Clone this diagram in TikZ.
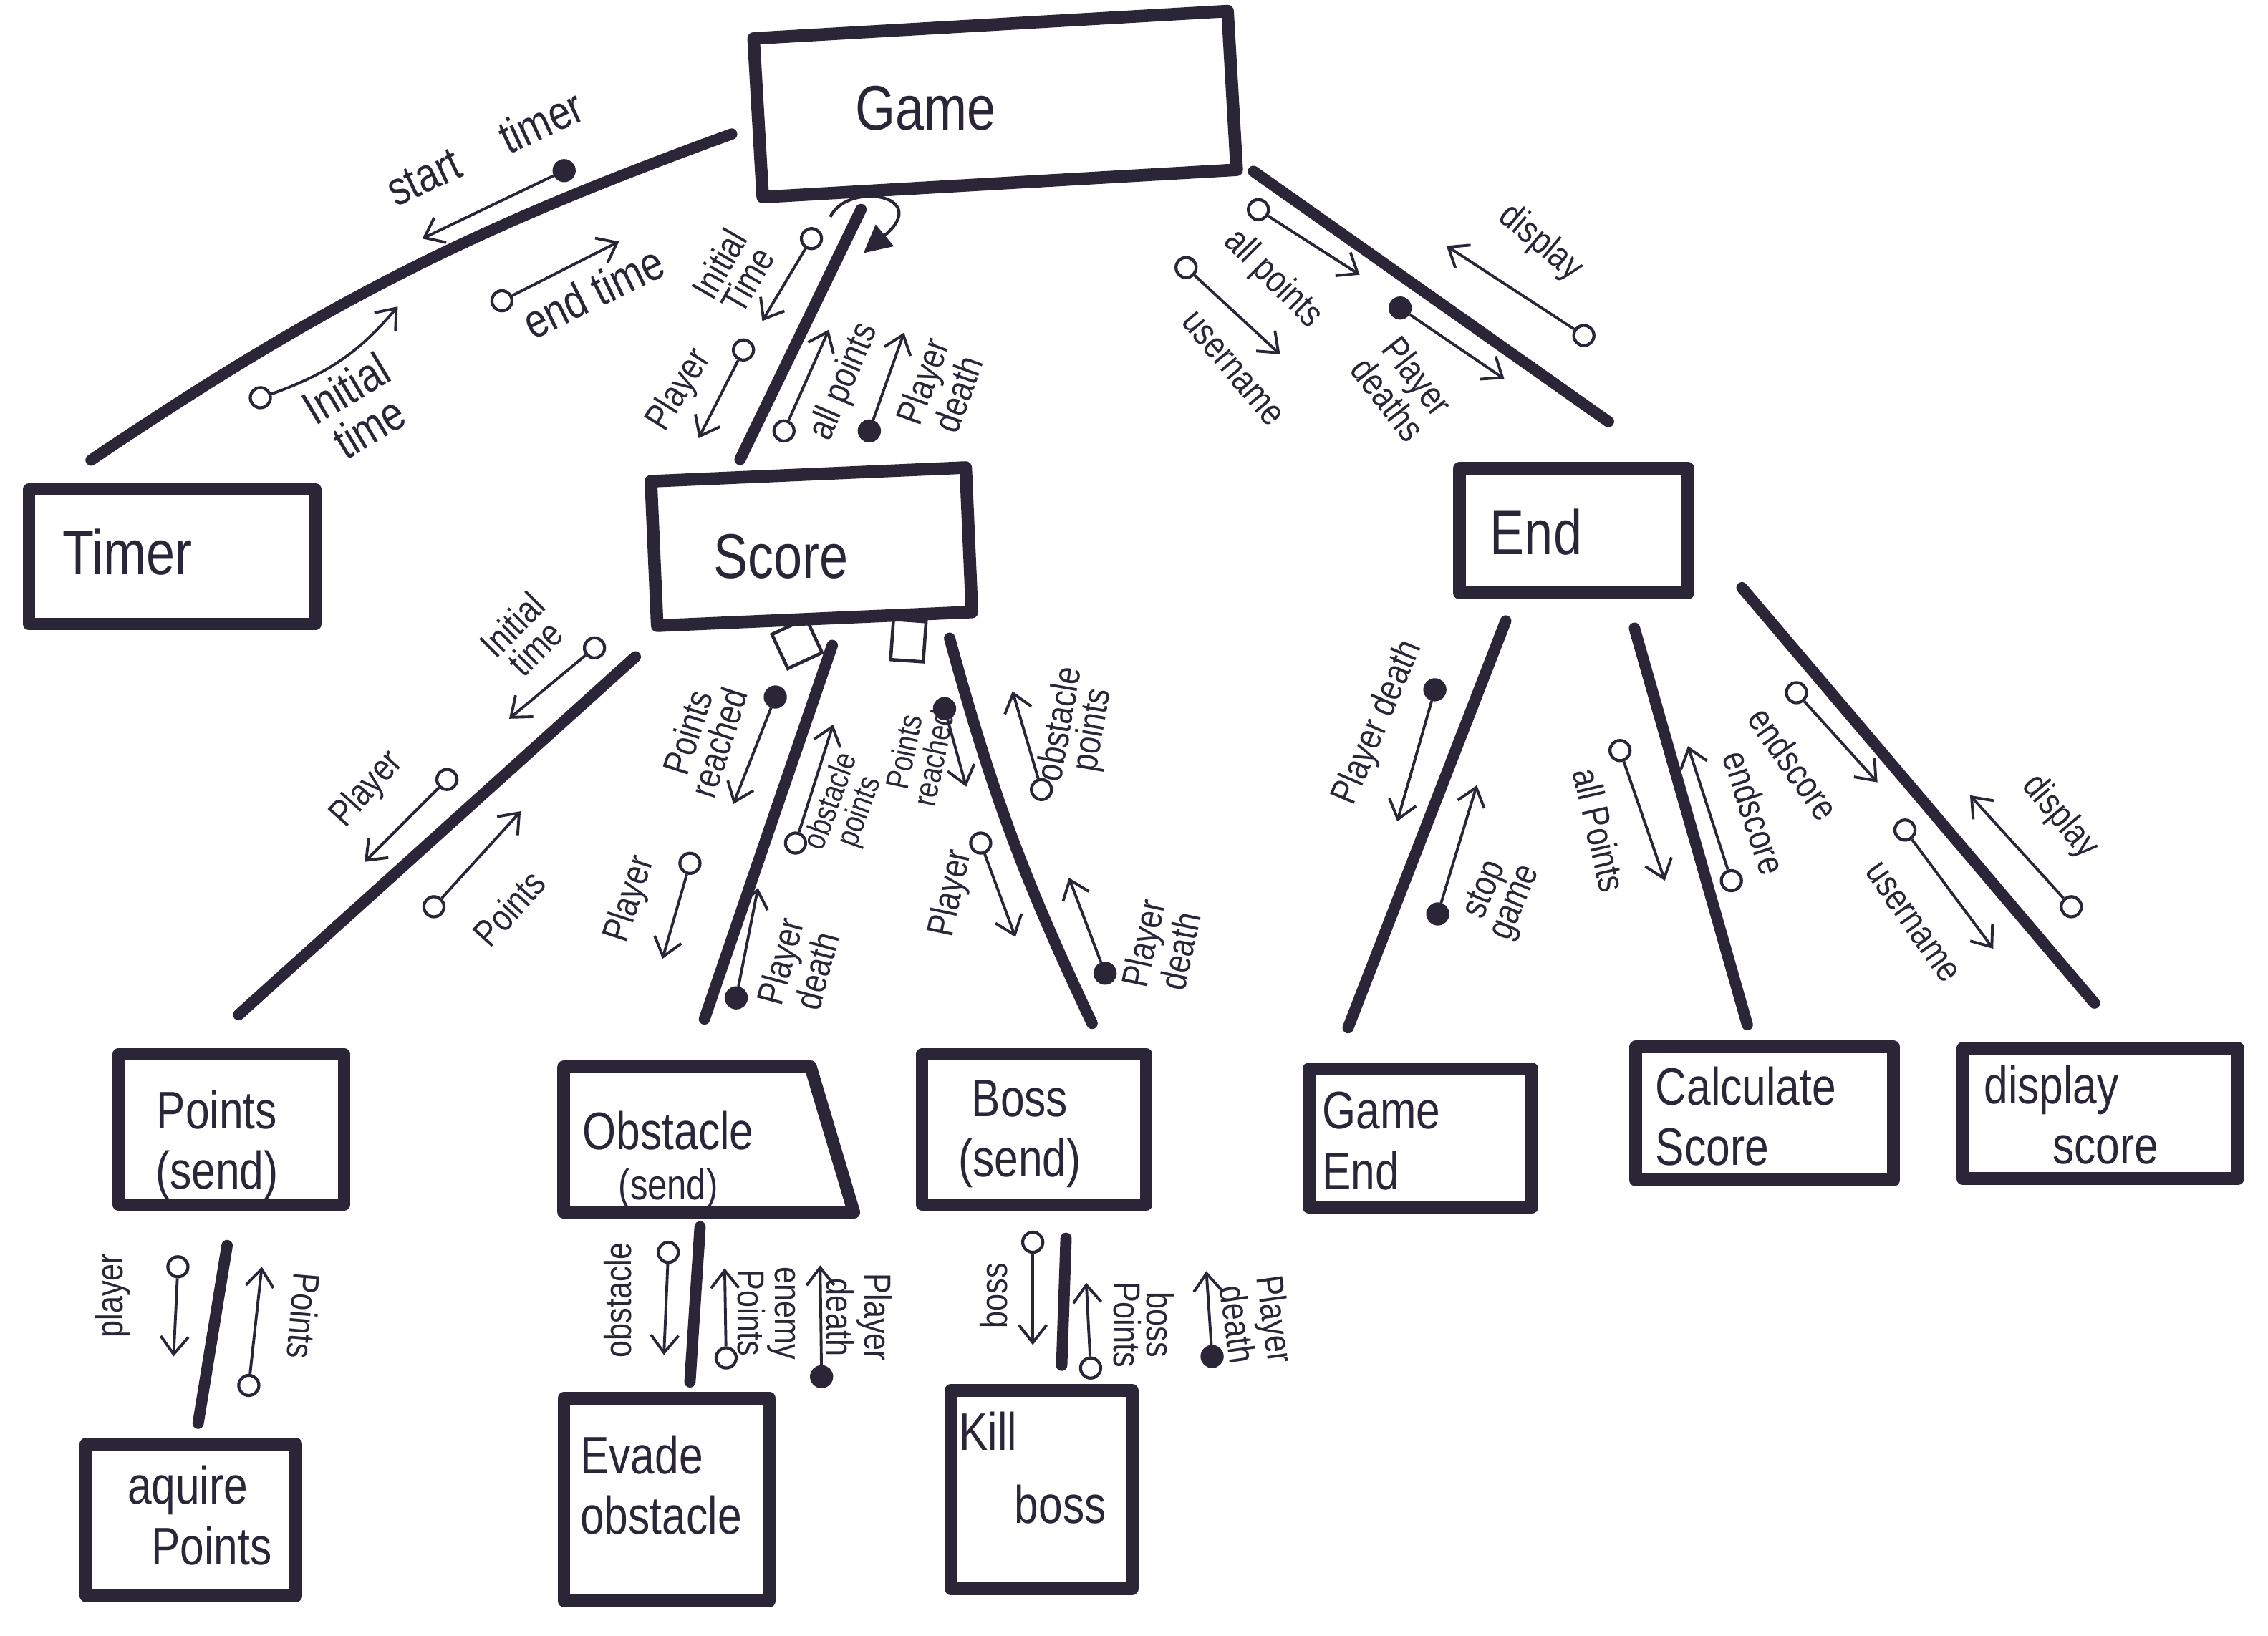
\documentclass[tikz,border=0pt]{standalone}
\usepackage{fontspec}
\setmainfont[FakeStretch=0.82]{Liberation Sans}
\usetikzlibrary{arrows.meta}
\definecolor{ink}{RGB}{42,38,56}
\tikzset{
  modbox/.style={draw=ink, line width=5pt, line cap=round, line join=round, inner sep=0pt},
  toptxt/.style={text=ink, font=\fontsize{25}{28}\selectfont, inner sep=0pt},
  boxtxt/.style={text=ink, font=\fontsize{21}{24}\selectfont, align=center, inner sep=0pt},
  link/.style={draw=ink, line width=4.5pt, line cap=round},
  couple/.style={circle, draw=ink, line width=1.2pt, inner sep=0pt, minimum size=8pt},
  cpline/.style={draw=ink, line width=1.1pt, -{Straight Barb[length=7pt,width=11pt]}},
  cplabel/.style={text=ink, font=\fontsize{15}{13}\selectfont, align=center, inner sep=0pt},
  selbox/.style={draw=ink, line width=1.3pt, inner sep=0pt}
}
\begin{document}
\begin{tikzpicture}[x=0.202mm, y=-0.202mm]
	\useasboundingbox (0,0) rectangle (1568,1131);
	
	%modules
	\node[modbox, rotate=3.3, minimum width=66.3mm, minimum height=22.2mm] (game) at (688,72) {};
	\node[modbox, minimum width=40mm, minimum height=18.8mm] (timer) at (119,385) {};
	\node[modbox, rotate=2.5, minimum width=44mm, minimum height=20.2mm] (score) at (561,378) {};
	\node[modbox, minimum width=31.9mm, minimum height=17.4mm] (endbox) at (1088,367) {};
	\node[modbox, minimum width=31.5mm, minimum height=21mm] (points) at (160,781) {};
	\node[inner sep=0pt, minimum width=40.4mm, minimum height=20.2mm] (obstacle) at (490,788) {};
	\draw[modbox] (obstacle.north west) -- ([shift={(-30,0)}]obstacle.north east) -- (obstacle.south east) -- (obstacle.south west) -- cycle;
	\node[modbox, minimum width=31.3mm, minimum height=21mm] (boss) at (715,781) {};
	\node[modbox, minimum width=31.1mm, minimum height=19.4mm] (gameend) at (982,787) {};
	\node[modbox, minimum width=36mm, minimum height=18.6mm] (calcscore) at (1220,770) {};
	\node[modbox, minimum width=38.4mm, minimum height=18.2mm] (dispscore) at (1452,770) {};
	\node[modbox, minimum width=29.3mm, minimum height=21.2mm] (aquire) at (132,1051) {};
	\node[modbox, minimum width=28.7mm, minimum height=28.3mm] (evade) at (461,1037) {};
	\node[modbox, minimum width=25.3mm, minimum height=27.7mm] (killboss) at (720,1030) {};
	
	%module names
	\node[toptxt] (game-t) at (640,75) {Game};
	\node[toptxt] (timer-t) at (88,382) {Timer};
	\node[toptxt] (score-t) at (540,385) {Score};
	\node[toptxt] (endbox-t) at (1062,368) {End};
	\node[boxtxt] (points-t) at (150,792) {Points\\(send)};
	\node[boxtxt] (obstacle-t) at (462,802) {Obstacle\\[-4pt]{\fontsize{17}{17}\selectfont(send)}};
	\node[boxtxt] (boss-t) at (705,784) {Boss\\(send)};
	\node[boxtxt, align=left] (gameend-t) at (955,789) {Game\\End};
	\node[boxtxt, align=left] (calcscore-t) at (1207,772) {Calculate\\Score};
	\node[boxtxt, align=left] (dispscore-t) at (1432,771) {display\\\hspace{1.3em}score};
	\node[boxtxt, align=left] (aquire-t) at (138,1048) {aquire\\\hspace{0.45em}Points};
	\node[boxtxt, align=left] (evade-t) at (457,1027) {Evade\\obstacle};
	\node[boxtxt, align=left, font=\fontsize{21}{29}\selectfont] (killboss-t) at (714,1015) {Kill\\\hspace{1.05em}boss};
	
	%calls
	\draw[link] ([shift={(-14,11)}]game.west) to[bend right=7] ([shift={(-56,-16)}]timer.north);
	\draw[link] ([shift={(72,4)}]game.south west) -- ([shift={(-47,-6)}]score.north);
	\draw[link] ([shift={(7,-3)}]game.south east) -- ([shift={(24,-28)}]endbox.north);
	\draw[link] ([shift={(-11,17)}]score.south west) -- ([shift={(5,-23)}]points.north);
	\draw[link] ([shift={(12,14)}]score.south) -- ([shift={(-3,-33)}]obstacle.north);
	\draw[link] ([shift={(-20,14)}]score.south east) to[bend right=5] ([shift={(40,-17)}]boss.north);
	\draw[link] ([shift={(-47,15)}]endbox.south) -- ([shift={(-50,-24)}]gameend.north);
	\draw[link] ([shift={(42,20)}]endbox.south) -- ([shift={(-12,-11)}]calcscore.north);
	\draw[link] ([shift={(33,-8)}]endbox.south east) -- ([shift={(-4,-27)}]dispscore.north);
	\draw[link] ([shift={(-3,24)}]points.south) -- ([shift={(5,-10)}]aquire.north);
	\draw[link] ([shift={(-6,10)}]obstacle.south) -- ([shift={(16,-7)}]evade.north);
	\draw[link] ([shift={(22,19)}]boss.south) -- ([shift={(14,-13)}]killboss.north);
	
	%loop and selection marks
	\draw[draw=ink, line width=1.2pt, -{Triangle[length=11pt,width=11pt]}] (574,150) .. controls (586,125) and (645,135) .. (597,175);
	\node[selbox, minimum size=15pt, rotate=25] (sel-obst) at (551,445) {};
	\node[selbox, minimum width=13pt, minimum height=16pt, rotate=-4] (sel-boss) at (628,443) {};
	
	%couples
	\node[couple, fill=white] (gt3) at (180,275) {};
	\coordinate (gt3-h) at (275,212);
	\draw[cpline] (gt3) to[bend right=15] (gt3-h);
	\foreach \nm/\fc/\ax/\ay/\bx/\by in {gt1/ink/390/118/292/165, gt2/white/347/208/428/167,
		gs1/white/561/165/527/222, gs2/white/514/242/483/303, gs3/white/542/298/573/228, gs4/ink/601/298/625/230,
		ge1/white/870/145/940/190, ge2/white/820/185/885/245, ge3/ink/968/213/1040/262, ge4/white/1095/232/1000/170,
		sp1/white/411/448/352/497, sp2/white/309/539/252/596, sp3/white/300/627/360/561,
		so1/ink/536/482/507/556, so2/white/550/583/576/501, so3/white/477/597/458/663, so4/ink/509/690/524/614,
		sb1/ink/653/490/668/544, sb2/white/720/546/700/478, sb3/white/678/583/702/648, sb4/ink/764/673/739/607,
		eg1/ink/992/477/966/568, eg2/ink/994/632/1021/543,
		ec1/white/1120/519/1151/609, ec2/white/1197/609/1167/516,
		ed1/white/1242/479/1298/541, ed2/white/1317/574/1378/656, ed3/white/1432/627/1362/550,
		pa1/white/123/876/120/938, pa2/white/172/958/181/876,
		oe1/white/462/866/459/937, oe2/white/502/939/501/877, oe3/ink/568/952/567/875,
		bk1/white/714/859/714/930, bk2/white/754/946/751/887, bk3/ink/838/938/834/879}{
		\node[couple, fill=\fc] (\nm) at (\ax,\ay) {};
		\coordinate (\nm-h) at (\bx,\by);
		\draw[cpline] (\nm) -- (\nm-h);
	}
	
	%couple labels
	\node[cplabel, font=\fontsize{19}{18}\selectfont, rotate=25] (lgt1) at (335,102) {start\hspace{1em}timer};
	\node[cplabel, font=\fontsize{19}{18}\selectfont, rotate=26] (lgt2) at (410,202) {end time};
	\node[cplabel, font=\fontsize{19}{18}\selectfont, rotate=31] (lgt3) at (247,282) {Initial\\time};
	\node[cplabel, font=\fontsize{13}{12}\selectfont, rotate=70] (lso2) at (585,558) {obstacle\\points};
	\node[cplabel, font=\fontsize{13}{12}\selectfont, rotate=78] (lsb1) at (635,522) {Points\\reached};
	\foreach \nm/\lx/\ly/\rot/\txt in {lgs1/507/188/60/{Initial\\Time}, lgs2/470/270/58/Player,
		lgs3/584/264/67/all points, lgs4/650/268/70/{Player\\death},
		lge1/880/193/-45/all points, lge2/852/255/-50/username, lge3/970/268/-52/{Player\\deaths}, lge4/1065/168/-40/display,
		lsp1/362/440/45/{Initial\\time}, lsp2/254/546/48/Player, lsp3/352/628/48/Points,
		lso1/486/510/72/{Points\\reached}, lso3/436/622/72/Player, lso4/552/668/75/{Player\\death},
		lsb2/745/503/80/{obstacle\\points}, lsb3/658/618/78/Player, lsb4/803/655/78/{Player\\death},
		leg1/953/500/67/Player death, leg2/1038/620/67/{stop\\game},
		lec1/1106/574/-77/all Points, lec2/1213/562/-72/endscore,
		led1/1240/528/-55/endscore, led2/1322/638/-55/username, led3/1424/565/-50/display,
		lpa1/78/896/90/player, lpa2/210/910/-95/Points,
		loe1/427/899/90/obstacle, loe2/530/908/-90/{enemy\\Points}, loe3/594/911/-90/{Player\\death},
		lbk1/687/896/90/boss, lbk2/791/916/-90/{boss\\Points}, lbk3/869/914/-82/{Player\\death}}{
		\node[cplabel, rotate=\rot] (\nm) at (\lx,\ly) {\txt};
	}
\end{tikzpicture}
\end{document}
